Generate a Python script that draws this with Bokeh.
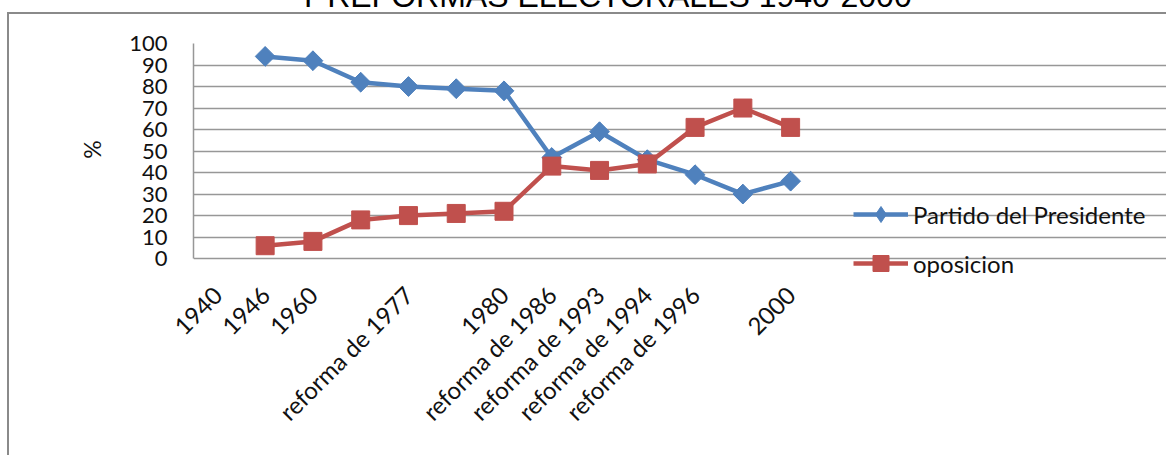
from math import pi

from bokeh.embed import file_html
from bokeh.models import (FixedTicker, InlineStyleSheet, Label, Legend,
                          LegendItem, Range1d)
from bokeh.plotting import figure
from bokeh.resources import INLINE

# Category axis labels; the empty strings are unlabeled slots
categories = ["1940", "1946", "1960", "", "reforma de 1977", "", "1980",
              "reforma de 1986", "reforma de 1993", "reforma de 1994",
              "reforma de 1996", "", "2000"]
partido_presidente = [94, 92, 82, 80, 79, 78, 47, 59, 46, 39, 30, 36]
oposicion = [6, 8, 18, 20, 21, 22, 43, 41, 44, 61, 70, 61]
y_ticks = [0, 10, 20, 30, 40, 50, 60, 70, 80, 90, 100]
title_text = "Y REFORMAS ELECTORALES 1940-2000"
y_title = "%"
series_names = ["Partido del Presidente", "oposicion"]

# one unit per category, marks at the slot centres;
# both series start at the second slot (nothing recorded for 1940)
slot_centres = [i + 0.5 for i in range(len(categories))]
series_x = slot_centres[1:]

BLUE = "#4F81BD"
RED = "#C0504D"
GRID = "#979797"
FONT = "Lato"
INK = "#111111"

# the plotting frame runs on to the right edge so the legend sits inside it;
# grid lines and axes are bounded to the category span
n_slots = len(categories)
p = figure(
    width=1166, height=455,
    x_range=Range1d(0, n_slots * 973 / 621),
    y_range=Range1d(-12.5, 100),
    output_backend="svg", toolbar_location=None,
    min_border_left=193, min_border_right=0,
    min_border_top=43, min_border_bottom=170,
    background_fill_color="white", border_fill_color="white",
    outline_line_color=None,
)

# thin grey frame around the whole chart area (left and top edges are visible)
p.stylesheets = [InlineStyleSheet(css="""
:host { position: relative; overflow: hidden; }
:host::after {
  content: ""; position: absolute; left: 7px; top: 12px; right: 0; bottom: 0;
  border-left: 2.5px solid #8a8a8a; border-top: 2.5px solid #8a8a8a;
  pointer-events: none;
}
""")]

# y axis
p.yaxis.ticker = FixedTicker(ticks=y_ticks)
p.yaxis.bounds = (y_ticks[0], y_ticks[-1])
p.yaxis.major_label_text_font = FONT
p.yaxis.major_label_text_font_size = "22px"
p.yaxis.major_label_text_color = INK
p.yaxis.major_label_standoff = 26
p.yaxis.major_tick_out = 0
p.yaxis.major_tick_in = 0
p.yaxis.minor_tick_out = 0
p.yaxis.minor_tick_in = 0
p.yaxis.axis_line_color = GRID
p.yaxis.axis_line_width = 1.5

# x axis with slanted category labels
p.xaxis.ticker = FixedTicker(ticks=slot_centres)
p.xaxis.major_label_overrides = dict(zip(slot_centres, categories))
p.xaxis.bounds = (0, n_slots)
p.xaxis.major_label_orientation = pi / 4
p.xaxis.major_label_text_font = FONT
p.xaxis.major_label_text_font_size = "24px"
p.xaxis.major_label_text_color = INK
p.xaxis.major_label_standoff = 5
p.xaxis.major_tick_out = 0
p.xaxis.major_tick_in = 0
p.xaxis.minor_tick_out = 0
p.xaxis.minor_tick_in = 0
p.xaxis.axis_line_color = None

p.xgrid.grid_line_color = None
p.ygrid.grid_line_color = GRID
p.ygrid.grid_line_width = 1.5
p.ygrid.bounds = (0, n_slots)

# series
blue_line = p.line(series_x, partido_presidente, line_color=BLUE,
                   line_width=4.5, line_join="round")
# narrow diamonds give the legend key its shape; the wider rotated squares
# drawn over them are the visible point markers
blue_key = p.scatter(series_x, partido_presidente, marker="diamond",
                     size=19, fill_color=BLUE, line_color=BLUE)
p.scatter(series_x, partido_presidente, marker="square", angle=pi / 4,
          size=14, fill_color=BLUE, line_color=BLUE)
red_line = p.line(series_x, oposicion, line_color=RED,
                  line_width=4.5, line_join="round")
red_pts = p.scatter(series_x, oposicion, marker="square",
                    size=18, fill_color=RED, line_color=RED)

legend = Legend(
    items=[LegendItem(label=series_names[0], renderers=[blue_line, blue_key]),
           LegendItem(label=series_names[1], renderers=[red_line, red_pts])],
    location=(660, 2),
    glyph_width=55, glyph_height=40, spacing=9, label_standoff=5,
    padding=0, margin=0,
    border_line_color=None, background_fill_alpha=0,
    label_text_font=FONT, label_text_font_size="24px",
    label_text_color=INK,
)
p.add_layout(legend, "center")

# vertical axis title
p.add_layout(Label(
    x=91, y=149, x_units="canvas", y_units="canvas", text=y_title,
    angle=pi / 2, text_align="center", text_baseline="middle",
    text_font=FONT, text_font_size="23px", text_color=INK,
), "left")

# chart title, mostly above the top edge of the page
p.add_layout(Label(
    x=297, y=-5, x_units="canvas", y_units="canvas", text=title_text,
    text_align="left", text_baseline="alphabetic",
    text_font="Liberation Sans", text_font_size="32px",
    text_color="#000000",
), "above")

open("out.html", "w").write(file_html(p, INLINE))
